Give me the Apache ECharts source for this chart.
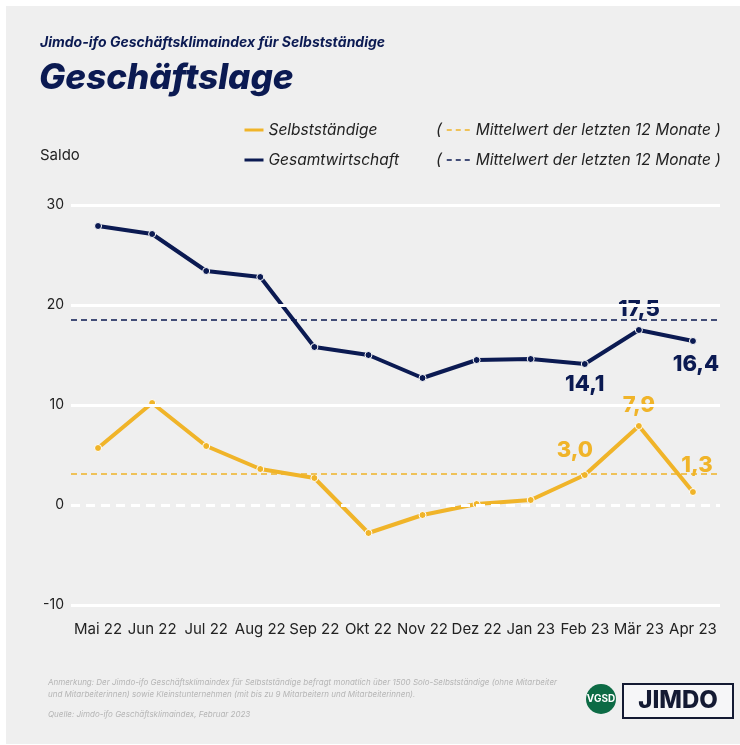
<!DOCTYPE html>
<html>
<head>
<meta charset="utf-8">
<script src="https://cdn.jsdelivr.net/npm/echarts@6/dist/echarts.min.js"></script>
<style>
  html, body { margin: 0; padding: 0; background: #fff; }
  #chart { width: 740px; height: 745px; }
</style>
</head>
<body>
<div id="chart"></div>
<script>
const months = ['Mai 22', 'Jun 22', 'Jul 22', 'Aug 22', 'Sep 22', 'Okt 22', 'Nov 22', 'Dez 22', 'Jan 23', 'Feb 23', 'Mär 23', 'Apr 23'];
const selbststaendige = [5.7, 10.2, 5.9, 3.6, 2.7, -2.8, -1.0, 0.1, 0.5, 3.0, 7.9, 1.3];
const gesamtwirtschaft = [27.9, 27.1, 23.4, 22.8, 15.8, 15.0, 12.7, 14.5, 14.6, 14.1, 17.5, 16.4];
const meanSelbst = 3.1;
const meanGesamt = 18.5;
const yTicks = [-10, 0, 10, 20, 30];

const NAVY = '#0b1a52';
const YELLOW = '#f0b429';
const FONT = 'Inter, "Noto Sans", sans-serif';

// which points get a value label, and where
const navyLabelPos = { 9: ['bottom', [0, 0]], 10: ['top', [0, -1]], 11: ['bottom', [3, 3]] };
const yellowLabelPos = { 9: ['top', [-10, -5]], 10: ['top', [0, -1]], 11: ['top', [4, -7]] };

function buildData(values, labelPos, color) {
  return values.map((v, i) => {
    const lp = labelPos[i];
    if (!lp) return v;
    return {
      value: v,
      label: {
        show: true, position: lp[0], offset: lp[1],
        color: color, fontSize: 22, fontWeight: 800, fontFamily: FONT,
        formatter: p => p.value.toFixed(1).replace('.', ',')
      }
    };
  });
}

const chart = echarts.init(document.getElementById('chart'));

const legendText = { color: '#222', fontSize: 15.5, fontStyle: 'italic', lineHeight: 18, fontFamily: FONT };

const option = {
  backgroundColor: '#fff',
  animation: false,
  textStyle: { fontFamily: FONT },
  graphic: [
    { type: 'rect', z: -10, shape: { x: 6, y: 6, width: 734, height: 738 }, style: { fill: '#efefef' } },
    { type: 'text', left: 40, top: 36, style: { text: 'Jimdo-ifo Geschäftsklimaindex für Selbstständige', fill: NAVY, font: 'italic 700 14px ' + FONT } },
    { type: 'text', left: 39, top: 61, style: { text: 'Geschäftslage', fill: NAVY, font: 'italic 800 35px ' + FONT } },
    { type: 'text', left: 40, top: 148, style: { text: 'Saldo', fill: '#222', font: '15px ' + FONT } },
    { type: 'text', left: 436, top: 122, style: { text: '(', fill: '#222', font: 'italic 16px ' + FONT } },
    { type: 'text', left: 436, top: 152, style: { text: '(', fill: '#222', font: 'italic 16px ' + FONT } },
    { type: 'text', left: 48, top: 677, style: { text: 'Anmerkung: Der Jimdo-ifo Geschäftsklimaindex für Selbstständige befragt monatlich über 1500 Solo-Selbstständige (ohne Mitarbeiter\nund Mitarbeiterinnen) sowie Kleinstunternehmen (mit bis zu 9 Mitarbeitern und Mitarbeiterinnen).', fill: '#b5b5b5', font: 'italic 8px ' + FONT, lineHeight: 12 } },
    { type: 'text', left: 48, top: 711, style: { text: 'Quelle: Jimdo-ifo Geschäftsklimaindex, Februar 2023', fill: '#b5b5b5', font: 'italic 8px ' + FONT } },
    { type: 'circle', shape: { cx: 601, cy: 699, r: 15 }, style: { fill: '#0d6b45' } },
    { type: 'text', x: 601, y: 699, style: { text: 'VGSD', fill: '#fff', font: '700 10px ' + FONT, align: 'center', verticalAlign: 'middle' } },
    { type: 'rect', shape: { x: 623, y: 684, width: 110, height: 34 }, style: { fill: '#f6f6f8', stroke: '#141a33', lineWidth: 2 } },
    { type: 'text', x: 678, y: 701, style: { text: 'JIMDO', fill: '#141a33', font: '800 24px ' + FONT, align: 'center', verticalAlign: 'middle' } }
  ],
  legend: [
    {
      data: ['Selbstständige', 'Gesamtwirtschaft'],
      orient: 'vertical', left: 243, top: 121, itemGap: 12, padding: 0,
      itemWidth: 19, itemHeight: 10,
      lineStyle: { width: 3 }, itemStyle: { opacity: 0 },
      textStyle: legendText
    },
    {
      data: ['meanS', 'meanG'],
      orient: 'vertical', left: 446, top: 121, itemGap: 12, padding: 0,
      itemWidth: 24, itemHeight: 10,
      lineStyle: { width: 1.5 }, itemStyle: { opacity: 0 },
      formatter: () => 'Mittelwert der letzten 12 Monate )',
      textStyle: legendText
    }
  ],
  grid: { left: 71, right: 20, top: 205, bottom: 140, containLabel: false },
  xAxis: {
    type: 'category', data: months, boundaryGap: true,
    axisLine: { show: false }, axisTick: { show: false },
    axisLabel: { color: '#222', fontSize: 15, margin: 17, interval: 0, fontFamily: FONT }
  },
  yAxis: {
    type: 'value', min: -10, max: 30, interval: 10,
    axisLine: { show: false }, axisTick: { show: false }, splitLine: { show: false },
    axisLabel: { color: '#222', fontSize: 14, margin: 7, fontFamily: FONT }
  },
  series: [
    {
      name: 'grid', type: 'line', data: [], z: 1, silent: true,
      markLine: {
        silent: true, symbol: 'none', label: { show: false },
        data: yTicks.map(t => ({
          yAxis: t,
          lineStyle: { color: '#fff', width: 3, type: t === 0 ? [9, 6] : 'solid' }
        }))
      }
    },
    {
      name: 'meanS', type: 'line', data: [], z: 2, symbol: 'none',
      lineStyle: { color: YELLOW, width: 1.5, type: [5, 4] }, itemStyle: { color: YELLOW },
      markLine: {
        silent: true, symbol: 'none', label: { show: false },
        lineStyle: { color: YELLOW, width: 1.5, type: [6, 4] },
        data: [{ yAxis: meanSelbst }]
      }
    },
    {
      name: 'meanG', type: 'line', data: [], z: 2, symbol: 'none',
      lineStyle: { color: NAVY, width: 1.5, type: [5, 4] }, itemStyle: { color: NAVY },
      markLine: {
        silent: true, symbol: 'none', label: { show: false },
        lineStyle: { color: NAVY, width: 1.5, type: [6, 4] },
        data: [{ yAxis: meanGesamt }]
      }
    },
    {
      name: 'Selbstständige', type: 'line', z: 3,
      data: buildData(selbststaendige, yellowLabelPos, YELLOW),
      symbol: 'circle', symbolSize: 7, showAllSymbol: true,
      lineStyle: { color: YELLOW, width: 4 },
      itemStyle: { color: YELLOW, borderColor: '#fff', borderWidth: 1 }
    },
    {
      name: 'Gesamtwirtschaft', type: 'line', z: 4,
      data: buildData(gesamtwirtschaft, navyLabelPos, NAVY),
      symbol: 'circle', symbolSize: 7, showAllSymbol: true,
      lineStyle: { color: NAVY, width: 4 },
      itemStyle: { color: NAVY, borderColor: '#fff', borderWidth: 1 }
    }
  ]
};

chart.setOption(option);
</script>
</body>
</html>
